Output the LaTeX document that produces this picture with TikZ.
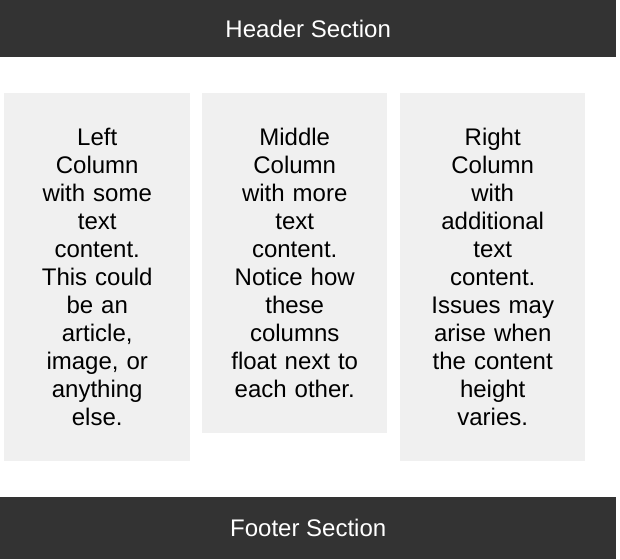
\documentclass[tikz,border=0pt]{standalone}
\usepackage{fontspec}
\setmainfont{Liberation Sans}
\definecolor{bardark}{HTML}{333333}
\definecolor{colgray}{HTML}{F0F0F0}
\begin{document}
\begin{tikzpicture}[x=1pt,y=-1pt,
  bar/.style={fill=bardark, text=white, draw=none, inner sep=0pt,
    minimum width=616pt, anchor=north west,
    font=\fontsize{24}{28}\selectfont},
  column/.style={fill=colgray, draw=none, inner sep=0pt, anchor=north west,
    minimum width=186pt, text width=150pt, align=center,
    font=\fontsize{24}{28}\selectfont}]
\useasboundingbox (0,0) rectangle (620,559);
% page bars
\node[bar, minimum height=57pt] (header) at (0,0) {Header Section};
\node[bar, minimum height=62pt] (footer) at (0,497) {Footer Section};
% floated columns
\node[column, minimum height=368pt] (left) at (4,93)
  {Left\\Column\\with some\\text\\content.\\This could\\be an\\article,\\image, or\\anything\\else.};
\node[column, minimum height=340pt, minimum width=185pt] (middle) at (202,93)
  {Middle\\Column\\with more\\text\\content.\\Notice how\\these\\columns\\float next to\\each other.};
\node[column, minimum height=368pt, minimum width=185pt] (right) at (400,93)
  {Right\\Column\\with\\additional\\text\\content.\\Issues may\\arise when\\the content\\height\\varies.};
\end{tikzpicture}
\end{document}
